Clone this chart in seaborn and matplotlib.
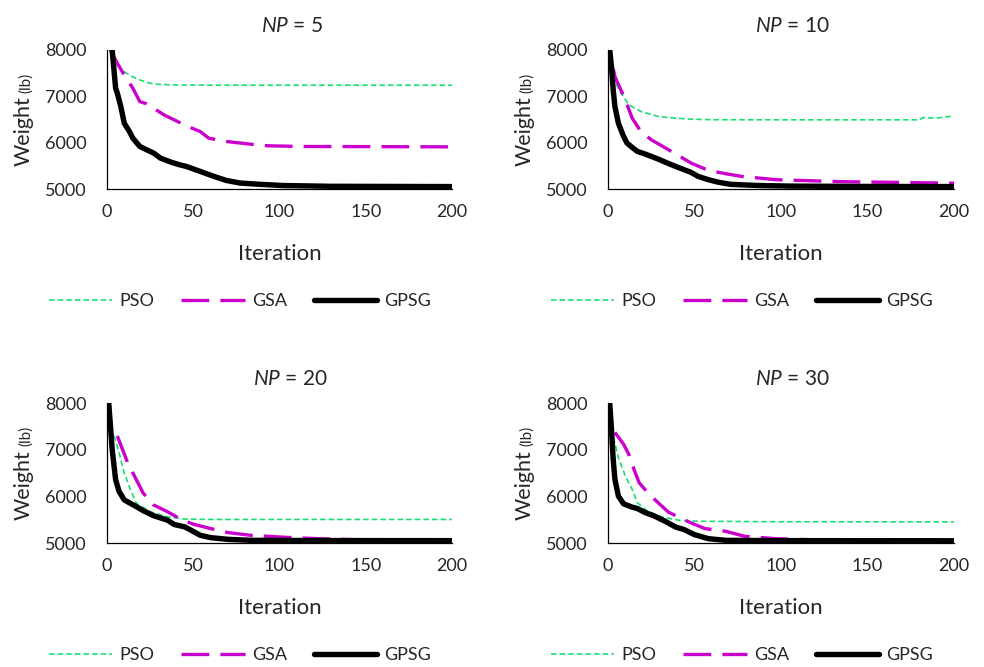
import matplotlib
matplotlib.use("Agg")
import matplotlib.pyplot as plt
import seaborn as sns
import pandas as pd

# ---------------- data ----------------
panels = ["5", "10", "20", "30"]

it_pso_5 = [2, 4, 7, 10, 15, 19, 24, 29, 40, 60, 100, 200]
pso_5 = [8000, 7800, 7620, 7530, 7420, 7354, 7290, 7260, 7245, 7240, 7240, 7240]
it_gsa_5 = [2, 4, 6, 10, 15, 19, 23, 27, 33, 39, 46, 54, 59, 69, 83, 93, 112, 200]
gsa_5 = [8000, 7850, 7713, 7460, 7175, 6887, 6837, 6744, 6600, 6492, 6363, 6241, 6097, 6026, 5968, 5933, 5918, 5910]
it_gpsg_5 = [3, 5, 6, 8, 10, 13, 15, 19, 23, 27, 31, 37, 42, 46, 54, 62, 69, 77, 89, 102, 130, 200]
gpsg_5 = [8000, 7175, 7067, 6780, 6420, 6241, 6097, 5918, 5846, 5775, 5667, 5581, 5523, 5487, 5380, 5272, 5186, 5129, 5100, 5075, 5058, 5052]

it_pso_10 = [1, 4, 7, 12, 19, 29, 39, 48, 60, 100, 150, 180, 182, 190, 200]
pso_10 = [8000, 7318, 7103, 6815, 6672, 6564, 6528, 6507, 6495, 6493, 6493, 6493, 6540, 6530, 6578]
it_gsa_10 = [3, 4, 7, 10, 14, 19, 25, 31, 39, 48, 58, 68, 77, 97, 116, 135, 164, 200]
gsa_10 = [7600, 7426, 7175, 6923, 6528, 6241, 6062, 5933, 5761, 5560, 5402, 5330, 5273, 5201, 5179, 5158, 5144, 5125]
it_gpsg_10 = [1, 2, 3, 4, 6, 9, 11, 14, 17, 21, 25, 29, 33, 39, 44, 48, 52, 58, 64, 71, 87, 106, 150, 200]
gpsg_10 = [8000, 7641, 7139, 6780, 6421, 6134, 5990, 5897, 5811, 5761, 5703, 5646, 5581, 5488, 5416, 5359, 5273, 5201, 5144, 5100, 5075, 5062, 5055, 5052]

it_pso_20 = [4, 6, 10, 14, 17, 25, 35, 45, 60, 100, 200]
pso_20 = [7300, 7077, 6500, 6104, 5851, 5671, 5563, 5513, 5505, 5505, 5505]
it_gsa_20 = [6, 9, 12, 16, 21, 27, 35, 43, 50, 60, 70, 83, 103, 122, 150, 200]
gsa_20 = [7293, 7005, 6717, 6428, 6068, 5815, 5671, 5505, 5404, 5310, 5224, 5166, 5123, 5094, 5065, 5055]
it_gpsg_20 = [1, 2, 3, 5, 7, 10, 16, 21, 27, 35, 39, 45, 48, 54, 60, 70, 83, 120, 200]
gpsg_20 = [8000, 7510, 7005, 6356, 6104, 5923, 5800, 5693, 5585, 5490, 5396, 5346, 5288, 5166, 5115, 5079, 5058, 5052, 5050]

it_pso_30 = [2, 6, 10, 14, 17, 23, 31, 41, 52, 100, 200]
pso_30 = [7440, 6830, 6435, 6148, 5861, 5682, 5560, 5488, 5466, 5455, 5452]
it_gsa_30 = [4, 9, 12, 15, 18, 23, 29, 35, 43, 48, 56, 68, 79, 97, 116, 150, 200]
gsa_30 = [7369, 7117, 6902, 6579, 6292, 6077, 5861, 5660, 5517, 5431, 5309, 5251, 5144, 5093, 5072, 5058, 5055]
it_gpsg_30 = [1, 2, 3, 4, 6, 9, 14, 17, 21, 27, 33, 39, 44, 50, 58, 68, 100, 200]
gpsg_30 = [8000, 7440, 6794, 6363, 6005, 5839, 5768, 5739, 5660, 5574, 5466, 5344, 5287, 5179, 5093, 5057, 5050, 5048]

series_names = ["PSO", "GSA", "GPSG"]
x_ticks = [0, 50, 100, 150, 200]
y_ticks = [5000, 6000, 7000, 8000]
x_label = "Iteration"
y_label_main = "Weight"
y_label_unit = "(lb)"

data = {
    "5": [(it_pso_5, pso_5), (it_gsa_5, gsa_5), (it_gpsg_5, gpsg_5)],
    "10": [(it_pso_10, pso_10), (it_gsa_10, gsa_10), (it_gpsg_10, gpsg_10)],
    "20": [(it_pso_20, pso_20), (it_gsa_20, gsa_20), (it_gpsg_20, gpsg_20)],
    "30": [(it_pso_30, pso_30), (it_gsa_30, gsa_30), (it_gpsg_30, gpsg_30)],
}

# ---------------- style ----------------
sns.set_style("white")
plt.rcParams["font.family"] = ["Lato", "DejaVu Sans"]
plt.rcParams["mathtext.fontset"] = "custom"
plt.rcParams["mathtext.rm"] = "Lato"
plt.rcParams["mathtext.it"] = "Lato:italic"
plt.rcParams["lines.scale_dashes"] = False

W, H = 984, 667
fig = plt.figure(figsize=(W / 100, H / 100), dpi=100)

styles = {
    "PSO": dict(color="#19E070", linewidth=1.2, linestyle=(0, (4.0, 2.2))),
    "GSA": dict(color="#CC00CC", linewidth=2.4, linestyle=(0, (20, 8))),
    "GPSG": dict(color="#000000", linewidth=3.9, linestyle="-"),
}

# pixel layout: (left, right, top, bottom, title_x, title_base, legend_cx, legend_cy)
layout = {
    "5": (107, 452, 50, 189, 292, 32, 240, 301),
    "10": (608, 954, 50, 189, 792, 32, 742, 301),
    "20": (107, 452, 403, 543, 290, 385, 240, 655),
    "30": (608, 954, 403, 543, 792, 385, 742, 655),
}

label_texts = []
for key in panels:
    l, r, t, b, tx, tb, lcx, lcy = layout[key]
    ax = fig.add_axes([l / W, 1 - b / H, (r - l) / W, (b - t) / H])
    for name, (its, vals) in zip(series_names, data[key]):
        df = pd.DataFrame({"Iteration": its, "Weight": vals})
        sns.lineplot(data=df, x="Iteration", y="Weight", ax=ax, label=name,
                     solid_capstyle="round", dash_capstyle="butt", **styles[name])
    ax.set_xlim(0, 200)
    ax.set_ylim(5000, 8000)
    ax.set_xticks(x_ticks)
    ax.set_yticks(y_ticks)
    ax.tick_params(axis="both", length=0, labelsize=13)
    ax.tick_params(axis="x", pad=11)
    ax.tick_params(axis="y", pad=15)
    for s in ["top", "right"]:
        ax.spines[s].set_visible(False)
    for s in ["left", "bottom"]:
        ax.spines[s].set_color("black")
        ax.spines[s].set_linewidth(0.9)
    ax.set_xlabel("")
    ax.set_ylabel("")
    # title
    fig.text(tx / W, 1 - tb / H, r"$\mathit{NP}$ = " + key, ha="center",
             va="baseline", fontsize=15)
    # x label
    fig.text((l + r) / 2 / W, 1 - (b + 71) / H, x_label, ha="center",
             va="baseline", fontsize=16)
    # y label parts
    t1 = fig.text((l - 77) / W, 0.5, y_label_main, rotation=90, rotation_mode="anchor",
                  ha="left", va="baseline", fontsize=15.5)
    t2 = fig.text((l - 77) / W, 0.5, y_label_unit, rotation=90, rotation_mode="anchor",
                  ha="left", va="baseline", fontsize=11)
    label_texts.append((t1, t2, (t + b) / 2))
    # legend
    ax.legend(loc="center", bbox_to_anchor=(lcx / W, 1 - lcy / H),
              bbox_transform=fig.transFigure, ncol=3, frameon=False, fontsize=13,
              handlelength=3.5, handletextpad=0.4, columnspacing=1.5)

fig.canvas.draw()
renderer = fig.canvas.get_renderer()
for t1, t2, cy in label_texts:
    h1 = t1.get_window_extent(renderer).height
    h2 = t2.get_window_extent(renderer).height
    gap = 4
    total = h1 + gap + h2
    center = H - cy
    start = center - total / 2
    t1.set_y(start / H)
    t2.set_y((start + h1 + gap) / H)

fig.savefig("out.png", dpi=100)
